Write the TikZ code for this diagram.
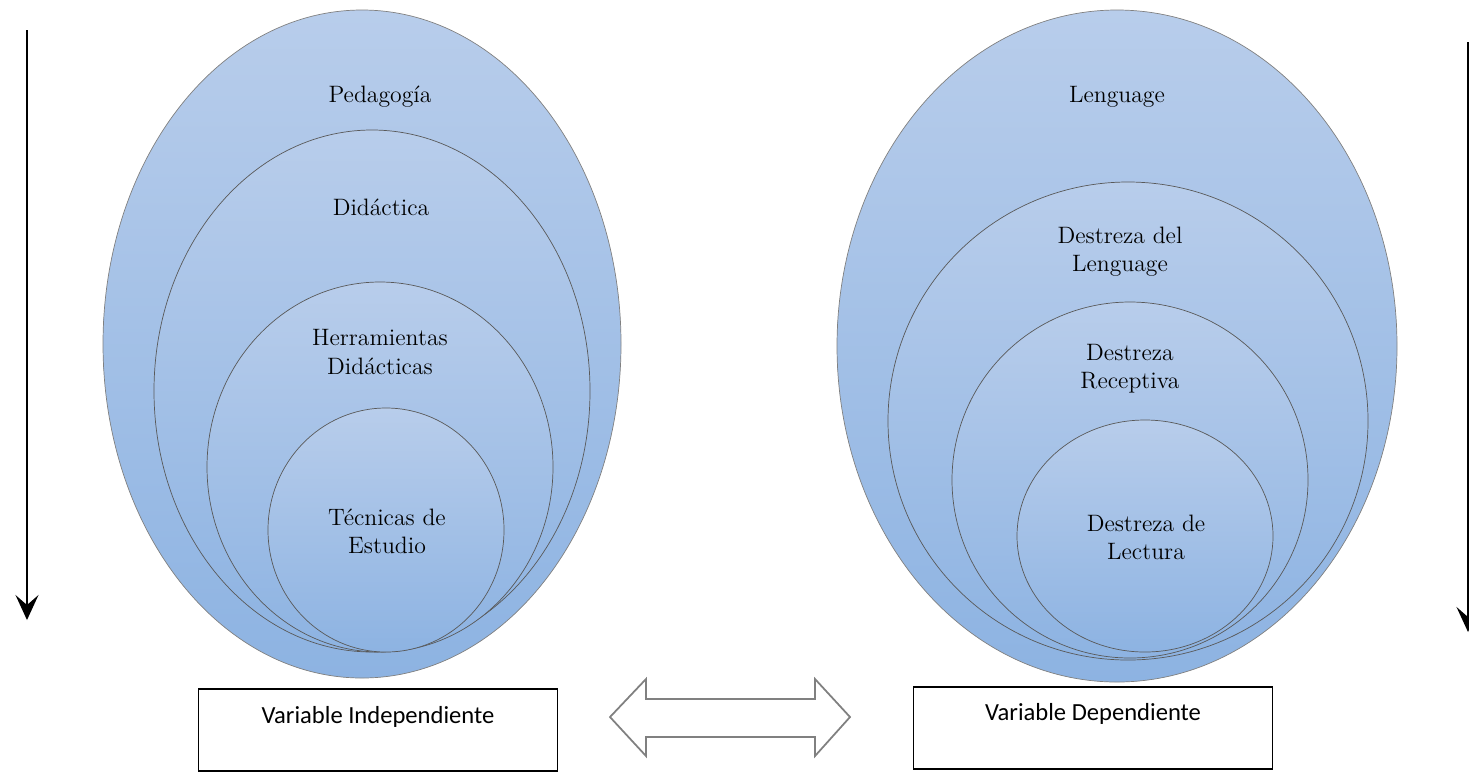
\documentclass[tikz,border=0pt]{standalone}
\usepackage{fontspec}
\newfontfamily\boxfont{Carlito}
\usetikzlibrary{shapes.geometric}
\usetikzlibrary{arrows.meta}

\definecolor{ovaltop}{RGB}{184,205,235}
\definecolor{ovalbot}{RGB}{141,179,226}
\newcommand{\pxl}{0.02cm}

\begin{document}
\begin{tikzpicture}[x=0.02cm, y=-0.02cm,
    oval/.style 2 args={ellipse, draw=black!65, line width=0.4pt, top color=ovaltop, bottom color=ovalbot,
        inner sep=0pt, minimum width=#1*\pxl, minimum height=#2*\pxl},
    ovaltext/.style={align=center, font=\rmfamily\fontsize{13.5}{16}\selectfont},
    varbox/.style={draw=black, line width=0.8pt, minimum width=359*\pxl, minimum height=82*\pxl, inner sep=0pt},
    boxtext/.style={font=\boxfont\fontsize{14}{16}\selectfont},
    vline/.style={draw=black, line width=0.8pt, -{Stealth[length=0.5cm, width=0.46cm, inset=0.2cm]}}]
    \useasboundingbox (0,0) rectangle (1469,772);

    % left side
    \node[oval={518}{668}, draw=black!50] (pedag) at (362,344) {};
    \node[oval={436}{522}] (didac) at (372,391) {};
    \node[oval={346}{370}] (herram) at (380,467) {};
    \node[oval={236}{244}] (tecnic) at (386,530) {};
    \node[ovaltext] (pedagtxt) at (380,97) {Pedagogía};
    \node[ovaltext] (didactxt) at (381,207) {Didáctica};
    \node[ovaltext] (herramtxt) at (380,352) {Herramientas\\Didácticas};
    \node[ovaltext] (tecnictxt) at (387,531) {Técnicas de\\Estudio};

    % right side
    \node[oval={560}{672}, draw=black!50] (lengu) at (1117,346) {};
    \node[oval={480}{478}] (dlengu) at (1128,421) {};
    \node[oval={356}{356}] (drecep) at (1130,480) {};
    \node[oval={256}{232}] (dlect) at (1145,536) {};
    \node[ovaltext] (lengutxt) at (1117,97) {Lenguage};
    \node[ovaltext] (dlengutxt) at (1120,252) {Destreza del\\Lenguage};
    \node[ovaltext] (dreceptxt) at (1130,369) {Destreza\\Receptiva};
    \node[ovaltext] (dlecttxt) at (1146,537) {Destreza de\\Lectura};

    % boxes
    \node[varbox] (indep) at (378,730) {};
    \node[varbox] (dep) at (1093,728) {};
    \node[boxtext] (indeptxt) at ([yshift=-0.58cm]indep.north) {Variable Independiente};
    \node[boxtext] (deptxt) at ([yshift=-0.56cm]dep.north) {Variable Dependiente};

    % double arrow between the variables
    \draw[draw=black!50, line width=1pt, fill=white]
        (610,717) -- (646,679) -- (646,699) -- (815,699) -- (815,679) -- (850,717)
        -- (815,756) -- (815,737) -- (646,737) -- (646,756) -- cycle;

    % side arrows
    \coordinate (ltop) at (27,30);
    \coordinate (lbot) at (27,620);
    \coordinate (rtop) at (1468,42);
    \coordinate (rbot) at (1468,632);
    \draw[vline] (ltop) -- (lbot);
    \draw[vline] (rtop) -- (rbot);
\end{tikzpicture}
\end{document}
